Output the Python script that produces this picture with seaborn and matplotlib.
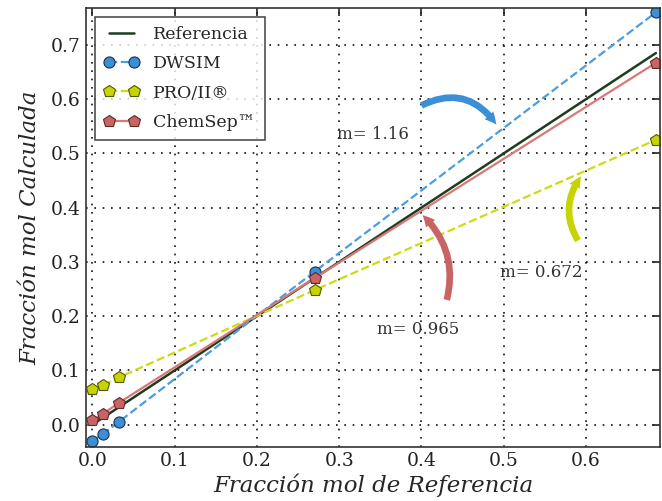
import matplotlib
matplotlib.use("Agg")
import matplotlib.pyplot as plt
import seaborn as sns
import pandas as pd

sns.set_theme(style="white")
plt.rcParams['font.family'] = ['DejaVu Serif']
plt.rcParams['mathtext.fontset'] = 'dejavuserif'

x_ref = [0.0, 0.013, 0.032, 0.27, 0.685]
dwsim = [-0.030, -0.017, 0.005, 0.282, 0.760]
pro2 = [0.065, 0.073, 0.087, 0.248, 0.525]
chemsep = [0.008, 0.020, 0.040, 0.270, 0.667]
ref_line_x = [0.0, 0.685]
ref_line_y = [0.0, 0.685]
xticks = [0.0, 0.1, 0.2, 0.3, 0.4, 0.5, 0.6]
yticks = [0.0, 0.1, 0.2, 0.3, 0.4, 0.5, 0.6, 0.7]

fig = plt.figure(figsize=(6.62, 5.01), dpi=100)
ax = fig.add_axes([0.130, 0.108, 0.867, 0.876])

sns.lineplot(x=ref_line_x, y=ref_line_y, ax=ax, color='#1e3d1e', lw=1.8, label='Referencia')
sns.lineplot(x=x_ref, y=dwsim, ax=ax, color='#4a9ee0', lw=1.6, linestyle='--', marker='o',
             markersize=8, markerfacecolor='#3a8fd6', markeredgecolor='#1a3050', markeredgewidth=0.8,
             label='DWSIM', sort=False)
sns.lineplot(x=x_ref, y=pro2, ax=ax, color='#ccdc10', lw=1.6, linestyle='--', marker='p',
             markersize=9, markerfacecolor='#c8d400', markeredgecolor='#505a00', markeredgewidth=0.8,
             label='PRO/II®', sort=False)
sns.lineplot(x=x_ref, y=chemsep, ax=ax, color='#d97878', lw=1.6, linestyle='-', marker='p',
             markersize=9, markerfacecolor='#c86464', markeredgecolor='#602828', markeredgewidth=0.8,
             label='ChemSep™', sort=False)

ax.set_xlim(-0.0077, 0.69)
ax.set_ylim(-0.041, 0.768)
ax.set_xticks(xticks)
ax.set_yticks(yticks)
ax.set_xticklabels([f"{v:.1f}" for v in xticks], fontsize=13.5)
ax.set_yticklabels([f"{v:.1f}" for v in yticks], fontsize=13.5)
ax.tick_params(direction='in', length=6, width=1.2, top=True, right=True, colors='#222222', pad=4)
ax.grid(True, linestyle=(0, (1, 4)), color='#111111', lw=1.2)
for s in ax.spines.values():
    s.set_color('#333333')
    s.set_linewidth(1.2)
ax.set_xlabel('Fracción mol de Referencia', fontsize=16.5, style='italic', labelpad=2)
ax.set_ylabel('Fracción mol Calculada', fontsize=16.5, style='italic', labelpad=7)

leg = ax.legend(loc='upper left', fontsize=12.5, frameon=True, fancybox=False, numpoints=2,
                handlelength=2.0, borderpad=0.55, labelspacing=0.7, bbox_to_anchor=(0.0, 1.0))
leg.get_frame().set_edgecolor('#222222')
leg.get_frame().set_linewidth(1.2)

arrow = 'simple,head_width=0.7,head_length=0.7,tail_width=0.4'
ax.annotate('', xy=(0.493, 0.549), xytext=(0.397, 0.586),
            arrowprops=dict(arrowstyle=arrow, connectionstyle='arc3,rad=-0.45', color='#3a8fd6', lw=0))
ax.text(0.341, 0.534, 'm= 1.16', fontsize=12, ha='center', va='center', color='#333333')

ax.annotate('', xy=(0.399, 0.390), xytext=(0.430, 0.225),
            arrowprops=dict(arrowstyle=arrow, connectionstyle='arc3,rad=0.3', color='#c86464', lw=0))
ax.text(0.396, 0.175, 'm= 0.965', fontsize=12, ha='center', va='center', color='#333333')

ax.annotate('', xy=(0.596, 0.462), xytext=(0.592, 0.335),
            arrowprops=dict(arrowstyle=arrow, connectionstyle='arc3,rad=-0.35', color='#c8d400', lw=0))
ax.text(0.546, 0.280, 'm= 0.672', fontsize=12, ha='center', va='center', color='#333333')

fig.savefig('out.png', dpi=100)
